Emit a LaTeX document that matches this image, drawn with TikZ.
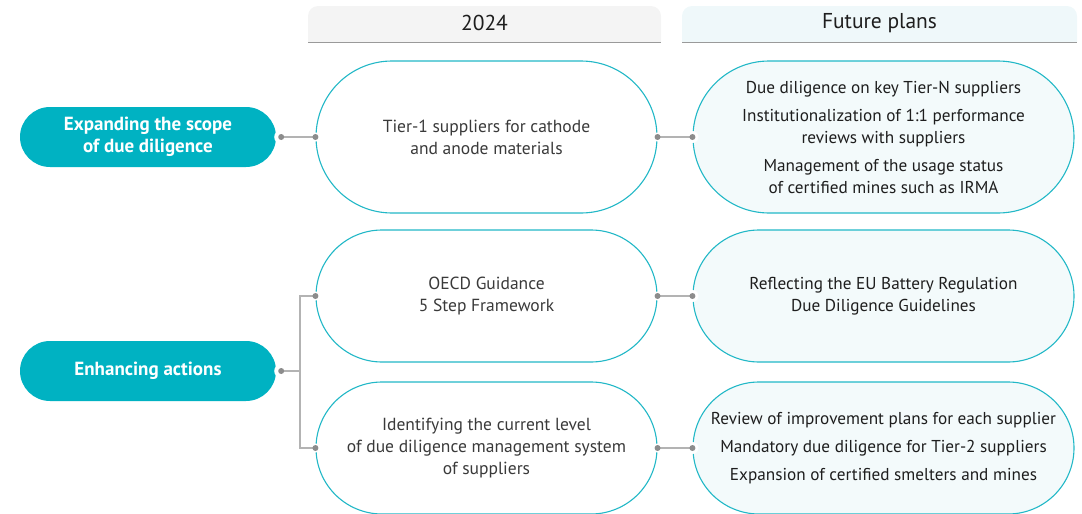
\documentclass[tikz,border=0pt]{standalone}
\usepackage{fontspec}
\setmainfont{PT Sans}
\definecolor{pillc}{HTML}{00B2C2}
\definecolor{edgec}{HTML}{22B8C7}
\definecolor{rfill}{HTML}{F3FAFB}
\definecolor{hdrA}{HTML}{F4F4F4}
\definecolor{hdrB}{HTML}{EFF8FA}
\definecolor{hdrline}{HTML}{9A9A9A}
\definecolor{linec}{HTML}{B3B3B3}
\definecolor{dotc}{HTML}{8C8C8C}
\definecolor{midtext}{HTML}{3A3A3A}
\definecolor{rtext}{HTML}{1E1E1E}
\begin{document}
\begin{tikzpicture}[x=1pt,y=1pt,
  pill/.style={fill=pillc, rounded corners=30pt, minimum width=256pt, minimum height=60pt,
    text=white, font=\bfseries\fontsize{19}{22}\selectfont, align=center, inner sep=0pt},
  boxbase/.style={draw=edgec, line width=1.1pt, align=center, inner sep=0pt},
  midbox/.style={boxbase, fill=white, minimum width=341pt, text=midtext,
    font=\fontsize{17.5}{22}\selectfont},
  rbox/.style={boxbase, fill=rfill, minimum width=381pt, text=rtext,
    font=\fontsize{17.2}{22}\selectfont},
  tall/.style={minimum height=152pt, rounded corners=76pt},
  short/.style={minimum height=132pt, rounded corners=66pt},
  hdrtext/.style={text=rtext, font=\fontsize{21.5}{24}\selectfont, inner sep=0pt},
  conn/.style={draw=linec, line width=1.4pt},
]
\useasboundingbox (0,0) rectangle (1082,-514);

% headers
\fill[hdrA] (308,-42) -- (308,-16) arc[start angle=180,end angle=90,radius=10]
  -- (651,-6) arc[start angle=90,end angle=0,radius=10] -- (661,-42) -- cycle;
\draw[hdrline, line width=1.4pt] (308,-42.5) -- (661,-42.5);
\node[hdrtext] (h1) at (484.5,-23) {2024};
\fill[hdrB] (682,-42) -- (682,-16) arc[start angle=180,end angle=90,radius=10]
  -- (1067,-6) arc[start angle=90,end angle=0,radius=10] -- (1077,-42) -- cycle;
\draw[hdrline, line width=1.4pt] (682,-42.5) -- (1077,-42.5);
\node[hdrtext] (h2) at (879.5,-23) {Future plans};

% left pills
\node[pill] (p1) at (148,-137) {Expanding the scope\\of due diligence};
\node[pill] (p2) at (148,-371) {Enhancing actions};

% middle boxes
\node[midbox, tall] (m1) at (486.5,-137) {Tier-1 suppliers for cathode\\and anode materials};
\node[midbox, short] (m2) at (486.5,-296) {OECD Guidance\\5 Step Framework};
\node[midbox, short] (m3) at (486.5,-448) {Identifying the current level\\of due diligence management system\\of suppliers};

% right boxes
\node[rbox, tall] (r1) at (883.5,-137) {Due diligence on key Tier-N suppliers\\[6pt]
  Institutionalization of 1:1 performance\\reviews with suppliers\\[6pt]
  Management of the usage status\\of certified mines such as IRMA};
\node[rbox, short] (r2) at (883.5,-296) {Reflecting the EU Battery Regulation\\Due Diligence Guidelines};
\node[rbox, short] (r3) at (883.5,-448) {Review of improvement plans for each supplier\\[6pt]
  Mandatory due diligence for Tier-2 suppliers\\[6pt]
  Expansion of certified smelters and mines};

% connector points
\coordinate (p1o) at ([xshift=5pt]p1.east);
\coordinate (p2o) at ([xshift=5pt]p2.east);
\coordinate (jn) at (300,-371);

% white halos
\foreach \c/\r in {p1o/7, p2o/7, m1.west/4.5, m2.west/4.5, m3.west/4.5,
                   m1.east/4.5, m2.east/4.5, m3.east/4.5,
                   r1.west/6, r2.west/6, r3.west/6}
  \fill[white] (\c) circle (\r);

% lines
\draw[conn] (p1o) -- (m1.west);
\draw[conn] (m1.east) -- (r1.west);
\draw[conn] (m2.east) -- (r2.west);
\draw[conn] (m3.east) -- (r3.west);
\draw[conn] (p2o) -- (jn);
\draw[conn, line width=1.1pt] (m2.west) -| (jn) |- (m3.west);

% dots
\foreach \c in {p1o, p2o, m1.west, m2.west, m3.west, m1.east, m2.east, m3.east,
                r1.west, r2.west, r3.west}
  \fill[dotc] (\c) circle (3);
\end{tikzpicture}
\end{document}
